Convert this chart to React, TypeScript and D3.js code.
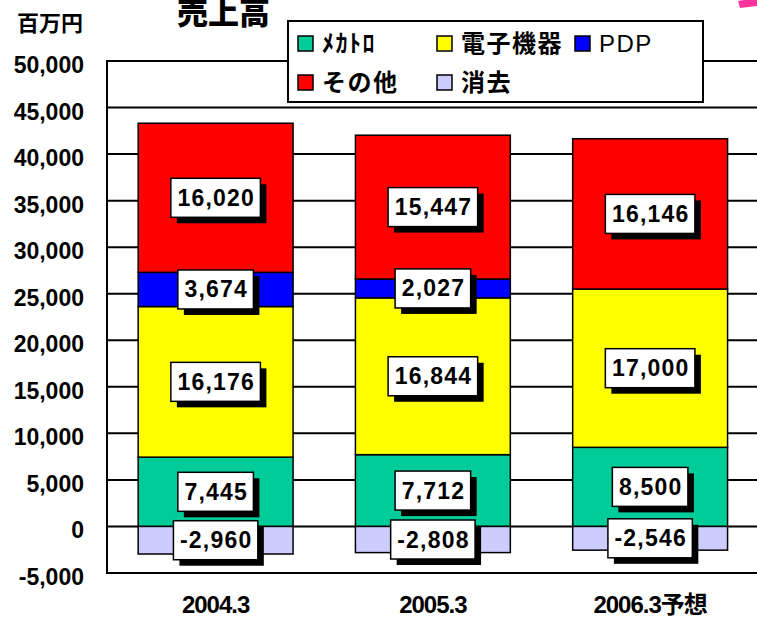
import React from 'react';
import * as d3 from 'd3';

const categories = ['2004.3', '2005.3', '2006.3予想'];
const seriesNames = ['ﾒｶﾄﾛ', '電子機器', 'PDP', 'その他', '消去'];
const mechatro = [7445, 7712, 8500];
const electronics = [16176, 16844, 17000];
const pdp = [3674, 2027, 0];
const others = [16020, 15447, 16146];
const elimination = [-2960, -2808, -2546];
const colors = ['#00CC99', '#FFFF00', '#0000FF', '#FF0000', '#CCCCFF'];
const yTicks = d3.range(-5000, 50001, 5000);

const W = 757;
const H = 617;
const left = 107;
const top = 61;
const bottom = 573;

const sans = '"Liberation Sans", Arial, "Noto Sans CJK JP", sans-serif';
const cjk = '"Noto Sans CJK JP", "Liberation Sans", sans-serif';

let ctx: CanvasRenderingContext2D | null = null;
function textWidth(s: string, font: string, spacing: number) {
  if (!ctx) ctx = document.createElement('canvas').getContext('2d');
  if (!ctx) return s.length * 12;
  ctx.font = font;
  return ctx.measureText(s).width + spacing * s.length;
}

export default function App() {
  const table = categories.map((c, i) => ({
    cat: c,
    [seriesNames[0]]: mechatro[i],
    [seriesNames[1]]: electronics[i],
    [seriesNames[2]]: pdp[i],
    [seriesNames[3]]: others[i],
    [seriesNames[4]]: elimination[i],
  }));

  const stack = d3.stack<any>()
    .keys(seriesNames)
    .offset(d3.stackOffsetDiverging);
  const layers = stack(table);

  const x = d3.scaleBand()
    .domain(categories)
    .range([left, left + 3 * 217.25])
    .paddingInner(0.287)
    .paddingOuter(0.1435);

  const y = d3.scaleLinear()
    .domain([-5000, 50000])
    .range([bottom, top]);

  const fmt = d3.format(',');
  const labelFont = 'bold 23px "Liberation Sans", Arial';
  const spacing = 1.2;

  return (
    <svg width={W} height={H} style={{ position: 'absolute', left: 0, top: 0, background: '#fff' }}>
      <rect width={W} height={H} fill="#fff" />
      {/* pink corner mark */}
      <polygon points="738,1 757,-2 757,6 740,8" fill="#FF3399" />

      {/* gridlines */}
      {yTicks.map(t => (
        <line key={t} x1={left} x2={W} y1={y(t)} y2={y(t)} stroke="#000" strokeWidth={2} />
      ))}
      <line x1={left} x2={left} y1={top - 1} y2={bottom + 1} stroke="#000" strokeWidth={2} />

      {/* y tick labels */}
      {yTicks.map(t => (
        <text key={t} x={84} y={y(t) + 12} textAnchor="end" fontFamily={sans}
          fontWeight="bold" fontSize={23} fill="#000">{fmt(t).replace('−', '-')}</text>
      ))}

      <text x={17} y={31} fontFamily={cjk} fontWeight="bold" fontSize={22}>百万円</text>
      <text x={177} y={24} fontFamily={cjk} fontWeight="900" fontSize={31}>売上高</text>

      {/* bars */}
      {layers.map((layer, li) => (
        <g key={layer.key}>
          {layer.map((d, i) => (
            d[1] - d[0] === 0 ? null :
              <rect key={i} x={x(categories[i])} width={x.bandwidth()}
                y={y(Math.max(d[0], d[1]))} height={Math.abs(y(d[0]) - y(d[1]))}
                fill={colors[li]} stroke="#000" strokeWidth={1.5} />
          ))}
        </g>
      ))}

      {/* value labels */}
      {layers.map(layer => (
        <g key={layer.key}>
          {layer.map((d, i) => {
            const v = d.data[layer.key] as number;
            if (v === 0) return null;
            const s = fmt(v).replace('−', '-');
            const cx = x(categories[i])! + x.bandwidth() / 2;
            const cy = y((d[0] + d[1]) / 2);
            const w = textWidth(s, labelFont, spacing) + 12;
            const h = 39;
            return (
              <g key={i}>
                <rect x={cx - w / 2 + 6} y={cy - h / 2 + 6} width={w} height={h} fill="#000" />
                <rect x={cx - w / 2} y={cy - h / 2} width={w} height={h} fill="#fff" stroke="#000" strokeWidth={1.5} />
                <text x={cx + spacing / 2} y={cy + 8} textAnchor="middle" fontFamily={sans}
                  fontWeight="bold" fontSize={23} letterSpacing={spacing}>{s}</text>
              </g>
            );
          })}
        </g>
      ))}

      {/* x labels */}
      {categories.map(c => (
        <text key={c} x={x(c)! + x.bandwidth() / 2} y={613} textAnchor="middle"
          fontFamily={sans} fontWeight="bold" fontSize={24} letterSpacing={-1}>{c}</text>
      ))}

      {/* legend */}
      <rect x={288} y={21} width={415} height={81} fill="#fff" stroke="#000" strokeWidth={2} />
      {seriesNames.map((n, i) => {
        const col = i < 3 ? i : i - 3;
        const row = i < 3 ? 0 : 1;
        const sx = [298, 437, 575][col];
        const sy = [36, 75][row];
        return (
          <g key={n}>
            <rect x={sx} y={sy} width={15} height={15} fill={colors[i]} stroke="#000" strokeWidth={1.5} />
            <text x={sx + 24} y={sy + 16} fontFamily={n === 'PDP' ? sans : cjk}
              fontWeight={n === 'PDP' ? 'normal' : 'bold'} fontSize={24} letterSpacing={1.5}>{n}</text>
          </g>
        );
      })}
    </svg>
  );
}
